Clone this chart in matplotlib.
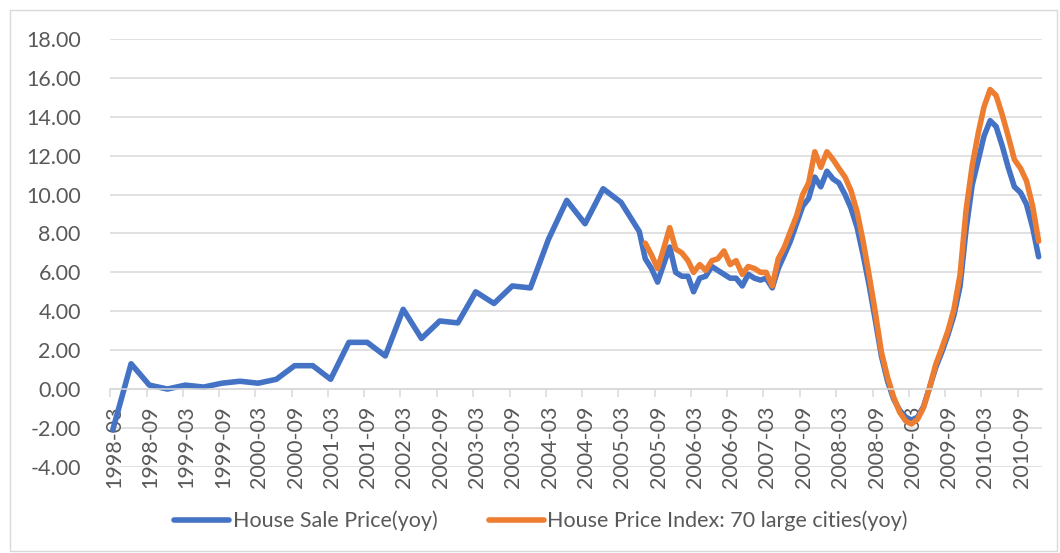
import numpy as np
import pandas as pd
import matplotlib
matplotlib.use('Agg')
import matplotlib.pyplot as plt
from matplotlib.ticker import FormatStrFormatter, NullFormatter
from matplotlib.patches import Rectangle

plt.rcParams['font.family'] = ['Lato', 'DejaVu Sans']

# House Sale Price (yoy), quarterly readings 1998-03 .. 2005-06
sale_q_start = '1998-03'
sale_q = [-2.1, 1.3, 0.2, 0.0,
          0.2, 0.1, 0.3, 0.4,
          0.3, 0.5, 1.2, 1.2,
          0.5, 2.4, 2.4, 1.7,
          4.1, 2.6, 3.5, 3.4,
          5.0, 4.4, 5.3, 5.2,
          7.7, 9.7, 8.5, 10.3,
          9.6, 8.1]

# monthly readings 2005-07 .. 2010-12, both series
monthly_start = '2005-07'
sale_m = [6.7, 6.2, 5.5, 6.4, 7.3, 6.0,
          5.8, 5.8, 5.0, 5.7, 5.8, 6.3, 6.1, 5.9, 5.7, 5.7, 5.3, 5.9,
          5.7, 5.6, 5.7, 5.2, 6.2, 6.9, 7.6, 8.5, 9.4, 9.8, 10.9, 10.4,
          11.2, 10.8, 10.6, 10.0, 9.3, 8.3, 6.9, 5.3, 3.5, 1.7, 0.4, -0.5,
          -1.1, -1.45, -1.6, -1.45, -0.9, 0.1, 1.1, 1.9, 2.8, 3.8, 5.3, 8.2,
          10.5, 11.8, 13.0, 13.8, 13.5, 12.5, 11.4, 10.4, 10.1, 9.5, 8.3, 6.8]
index_m = [7.5, 6.9, 6.2, 7.2, 8.3, 7.2,
           7.0, 6.6, 6.0, 6.4, 6.1, 6.6, 6.7, 7.1, 6.4, 6.6, 5.9, 6.3,
           6.2, 6.0, 6.0, 5.3, 6.7, 7.3, 8.1, 8.9, 10.0, 10.6, 12.2, 11.4,
           12.2, 11.8, 11.35, 10.9, 10.2, 9.1, 7.6, 5.8, 3.9, 1.9, 0.6, -0.4,
           -1.2, -1.65, -1.8, -1.55, -0.95, 0.1, 1.25, 2.1, 3.0, 4.1, 5.9, 9.2,
           11.5, 13.2, 14.5, 15.4, 15.1, 14.1, 13.0, 11.8, 11.35, 10.7, 9.4, 7.6]

series_labels = ['House Sale Price(yoy)', 'House Price Index: 70 large cities(yoy)']
colors = ['#4472C4', '#ED7D31']
text_color = '#595959'
grid_color = '#D9D9D9'
fs = 15.5

# points sit in the middle of their month
half = pd.Timedelta(days=14)
q_dates = pd.date_range(sale_q_start, periods=len(sale_q), freq='3MS') + half
m_dates = pd.date_range(monthly_start, periods=len(sale_m), freq='MS') + half
sale_dates = q_dates.append(m_dates)
sale_vals = sale_q + sale_m

fig = plt.figure(figsize=(10.6, 5.53), dpi=100)
ax = fig.add_axes([110 / 1060, 1 - 466.8 / 553, 932 / 1060, 427.8 / 553])

ax.plot(sale_dates, sale_vals, color=colors[0], lw=4, solid_capstyle='round',
        solid_joinstyle='round', label=series_labels[0], zorder=2)
ax.plot(m_dates, index_m, color=colors[1], lw=4, solid_capstyle='round',
        solid_joinstyle='round', label=series_labels[1], zorder=2.1)

yticks = np.arange(-4, 18.1, 2)
ax.set_ylim(-4, 18)
ax.set_yticks(yticks)
for v in yticks:
    ax.axhline(v, color=grid_color, lw=1.1, zorder=1)
ax.yaxis.set_major_formatter(FormatStrFormatter('%.2f'))
ax.tick_params(axis='y', length=0, pad=21, labelsize=fs, labelcolor=text_color)

# tick marks at month start, labels drawn slightly right of them (minor ticks)
ax.set_xlim(pd.Timestamp('1998-03-01'), pd.Timestamp('2011-01-01'))
xticks = pd.date_range('1998-03-01', '2010-09-01', freq='6MS')
ax.set_xticks(xticks)
ax.xaxis.set_major_formatter(NullFormatter())
ax.set_xticks(xticks + pd.Timedelta(days=20), minor=True)
ax.set_xticklabels([d.strftime('%Y-%m') for d in xticks], minor=True)
ax.tick_params(axis='x', which='major', direction='out', length=6, width=1.1,
               color=grid_color)
ax.tick_params(axis='x', which='minor', length=0, pad=12, labelsize=fs,
               labelcolor=text_color, labelrotation=90)

for s in ['top', 'right', 'left']:
    ax.spines[s].set_visible(False)
ax.spines['bottom'].set_position(('data', 0))
ax.spines['bottom'].set_color(grid_color)
ax.spines['bottom'].set_linewidth(1.1)

fig.legend(loc='center', bbox_to_anchor=(541 / 1060, 1 - 521 / 553), ncol=2,
           frameon=False, fontsize=fs, handlelength=2.55, handletextpad=0.15,
           columnspacing=2.4, labelcolor=text_color)

fig.patches.append(Rectangle((10 / 1060, 2 / 553), 1047 / 1060, 541 / 553,
                             transform=fig.transFigure, fill=False,
                             edgecolor=grid_color, lw=1))

fig.savefig('out.png', dpi=100)
